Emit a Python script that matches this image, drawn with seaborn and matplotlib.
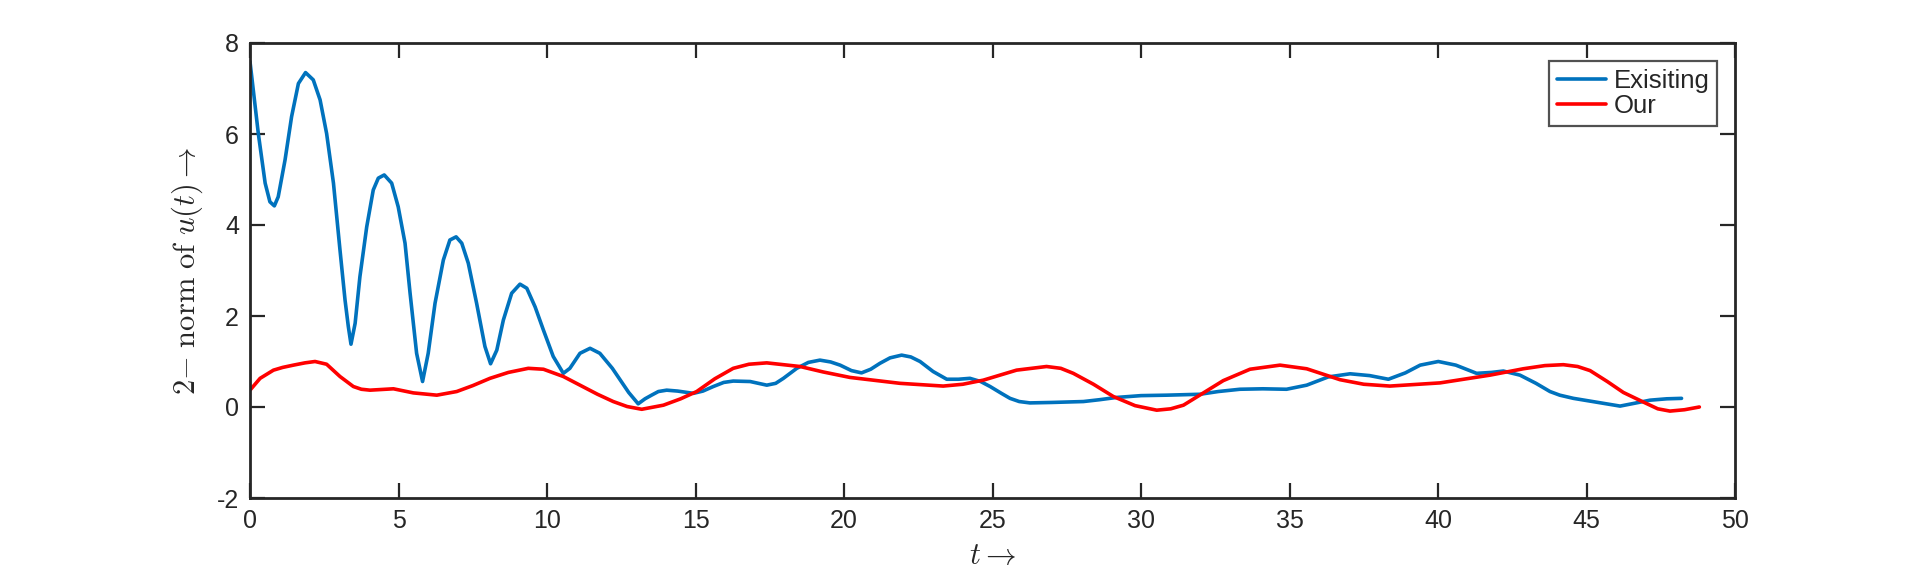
import numpy as np
import pandas as pd
import matplotlib
matplotlib.use('Agg')
import matplotlib.pyplot as plt
import seaborn as sns

# Curva "Exisiting" (azul)
t_exist = [0.0, 0.28, 0.51, 0.67, 0.82, 0.95, 1.18, 1.40, 1.63, 1.87, 2.13, 2.36, 2.58, 2.81,
           3.03, 3.20, 3.31, 3.40, 3.54, 3.70, 3.93, 4.15, 4.32, 4.52, 4.77, 4.99, 5.22, 5.39,
           5.61, 5.81, 6.00, 6.23, 6.51, 6.73, 6.94, 7.13, 7.35, 7.63, 7.91, 8.10, 8.31, 8.53,
           8.81, 9.09, 9.32, 9.60, 9.88, 10.21, 10.55, 10.77, 11.11, 11.45, 11.78, 12.20, 12.75,
           13.07, 13.30, 13.52, 13.75, 14.03, 14.40, 14.93, 15.25, 15.60, 15.95, 16.27, 16.84,
           17.40, 17.70, 17.96, 18.41, 18.80, 19.19, 19.55, 19.87, 20.25, 20.59, 20.90, 21.21,
           21.55, 21.94, 22.25, 22.56, 23.00, 23.46, 23.85, 24.24, 24.60, 24.92, 25.30, 25.59,
           25.90, 26.26, 27.00, 28.06, 28.60, 29.18, 30.00, 30.87, 31.99, 32.60, 33.33, 34.10,
           34.90, 35.58, 36.30, 37.04, 37.70, 38.33, 38.90, 39.40, 40.01, 40.60, 41.30, 41.80,
           42.20, 42.76, 43.30, 43.77, 44.10, 44.56, 45.30, 46.13, 46.60, 47.14, 47.70, 48.20]
u_exist = [7.59, 6.01, 4.92, 4.51, 4.42, 4.62, 5.43, 6.38, 7.11, 7.35, 7.19, 6.75, 6.01, 4.92,
           3.45, 2.35, 1.77, 1.38, 1.84, 2.86, 3.96, 4.77, 5.03, 5.10, 4.92, 4.40, 3.60, 2.50,
           1.18, 0.56, 1.18, 2.28, 3.23, 3.67, 3.74, 3.60, 3.16, 2.28, 1.33, 0.95, 1.25, 1.91,
           2.50, 2.70, 2.61, 2.20, 1.69, 1.11, 0.74, 0.85, 1.18, 1.29, 1.18, 0.85, 0.32,
           0.07, 0.18, 0.26, 0.34, 0.37, 0.35, 0.30, 0.35, 0.45, 0.54, 0.57, 0.56,
           0.48, 0.52, 0.63, 0.85, 0.98, 1.03, 0.99, 0.92, 0.80, 0.75, 0.83, 0.96,
           1.08, 1.14, 1.10, 1.00, 0.78, 0.61, 0.61, 0.63, 0.56, 0.45, 0.30, 0.19,
           0.12, 0.09, 0.10, 0.12, 0.16, 0.21, 0.25, 0.26, 0.28, 0.34, 0.39, 0.40,
           0.39, 0.48, 0.66, 0.73, 0.69, 0.61, 0.75, 0.92, 1.00, 0.92, 0.74, 0.76,
           0.79, 0.70, 0.52, 0.34, 0.26, 0.19, 0.11, 0.02, 0.08, 0.15, 0.18, 0.19]

# Curva "Our" (vermelha)
t_our = [0.0, 0.34, 0.79, 1.10, 1.46, 1.85, 2.19, 2.58, 3.03, 3.48, 3.75, 4.04, 4.83, 5.50,
         6.29, 6.96, 7.50, 8.08, 8.70, 9.37, 9.88, 10.55, 11.11, 11.70, 12.23, 12.70, 13.19,
         13.92, 14.50, 15.04, 15.65, 16.27, 16.80, 17.40, 18.52, 19.30, 20.20, 21.89, 23.34,
         24.00, 24.69, 25.30, 25.81, 26.82, 27.30, 27.72, 28.40, 29.07, 29.80, 30.53, 31.00,
         31.43, 32.20, 32.77, 33.67, 34.68, 35.58, 36.70, 37.50, 38.38, 40.07, 41.75, 42.87,
         43.60, 44.22, 44.70, 45.12, 45.70, 46.24, 46.91, 47.40, 47.81, 48.30, 48.80]
u_our = [0.37, 0.63, 0.81, 0.87, 0.92, 0.97, 1.00, 0.94, 0.67, 0.45, 0.39, 0.37, 0.40, 0.31,
         0.26, 0.34, 0.47, 0.63, 0.76, 0.85, 0.83, 0.67, 0.48, 0.28, 0.12, 0.01, -0.05,
         0.04, 0.18, 0.34, 0.62, 0.85, 0.94, 0.97, 0.89, 0.77, 0.65, 0.52, 0.46,
         0.50, 0.59, 0.71, 0.81, 0.89, 0.85, 0.74, 0.50, 0.23, 0.03, -0.07, -0.04,
         0.04, 0.35, 0.58, 0.83, 0.92, 0.84, 0.60, 0.50, 0.46, 0.53, 0.70, 0.84,
         0.91, 0.93, 0.89, 0.80, 0.56, 0.32, 0.11, -0.04, -0.09, -0.06, 0.00]

x_ticks = [0, 5, 10, 15, 20, 25, 30, 35, 40, 45, 50]
y_ticks = [-2, 0, 2, 4, 6, 8]

sns.set_style('ticks')
plt.rcParams['font.family'] = ['Liberation Sans', 'DejaVu Sans']
plt.rcParams['mathtext.fontset'] = 'cm'
plt.rcParams['axes.unicode_minus'] = False

cor_eixo = '#262626'
fig = plt.figure(figsize=(19.2, 5.75), dpi=100)
ax = fig.add_axes([250 / 1920, 1 - 498 / 575, 1485 / 1920, 455 / 575])

sns.lineplot(x=t_exist, y=u_exist, ax=ax, color='#0072BD', linewidth=2.6,
             label='Exisiting', sort=False)
sns.lineplot(x=t_our, y=u_our, ax=ax, color='#FF0000', linewidth=2.6,
             label='Our', sort=False)

ax.set_xlim(0, 50)
ax.set_ylim(-2, 8)
ax.set_xticks(x_ticks)
ax.set_yticks(y_ticks)
ax.tick_params(direction='in', length=11, width=1.6, top=True, right=True,
               labelsize=18, colors=cor_eixo, pad=8)
for lado in ax.spines.values():
    lado.set_visible(True)
    lado.set_linewidth(2.0)
    lado.set_color(cor_eixo)

ax.set_xlabel(r'$t \rightarrow$', fontsize=22, color=cor_eixo)
ax.set_ylabel(r'$2{-}\ \mathrm{norm\ of}\ u(t) \rightarrow$', fontsize=22, color=cor_eixo)
ax.xaxis.set_label_coords(0.5, -0.095)
ax.yaxis.set_label_coords(-0.03, 0.5)

leg = ax.legend(loc='upper right', fontsize=18.5, frameon=True, fancybox=False,
                borderaxespad=0.7, handlelength=1.9, handletextpad=0.3,
                labelspacing=0.05, borderpad=0.3)
leg.get_frame().set_edgecolor(cor_eixo)
leg.get_frame().set_linewidth(1.6)

fig.savefig('out.png', dpi=100, facecolor='white')
